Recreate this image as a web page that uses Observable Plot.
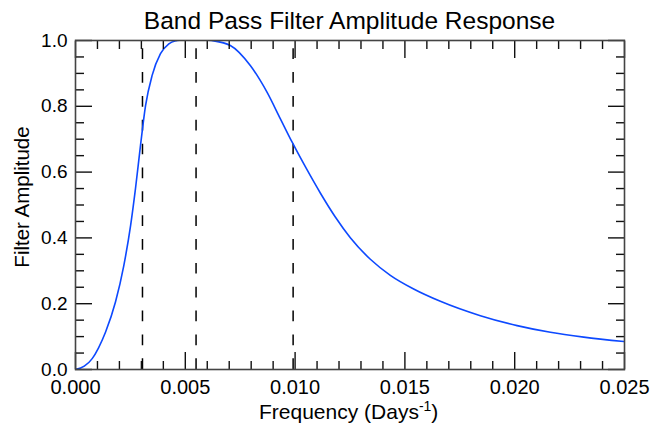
<!DOCTYPE html>
<html><head><meta charset="utf-8">
<script src="https://cdn.jsdelivr.net/npm/d3@7"></script>
<script src="https://cdn.jsdelivr.net/npm/@observablehq/plot@0.6"></script>
<style>body{margin:0;background:#fff;} svg{display:block;}</style>
</head><body><div id="chart"></div>
<script>
// Frequency (days^-1) and filter amplitude
const freq = [0, 0.0004, 0.00076, 0.00105, 0.00137, 0.00182, 0.0022, 0.00251, 0.00273, 0.00296, 0.00319, 0.00349, 0.00387, 0.00425, 0.00462, 0.0049, 0.0054, 0.0058, 0.0062, 0.00705, 0.00796, 0.00872, 0.00933, 0.009872, 0.01051, 0.011148, 0.011831, 0.012515, 0.013426, 0.014337, 0.015399, 0.016615, 0.018437, 0.020109, 0.021626, 0.023144, 0.025];
const amp  = [0, 0.010, 0.033, 0.066, 0.114, 0.205, 0.316, 0.438, 0.549, 0.681, 0.802, 0.894, 0.960, 0.990, 1.000, 1.003, 1.005, 1.003, 1.000, 0.985, 0.924, 0.843, 0.762, 0.690, 0.611, 0.5365, 0.4635, 0.4006, 0.335, 0.2863, 0.2447, 0.2073, 0.1635, 0.1334, 0.1131, 0.0985, 0.0848];
// Dashed cutoff markers
const cutoffs = [0.00305, 0.00549, 0.00991];
// Ticks
const xMajor = [0, 0.005, 0.010, 0.015, 0.020, 0.025];
const xMinor = [0.001, 0.002, 0.003, 0.004, 0.006, 0.007, 0.008, 0.009, 0.011, 0.012, 0.013, 0.014, 0.016, 0.017, 0.018, 0.019, 0.021, 0.022, 0.023, 0.024];
const xTickLabels = ["0.000", "0.005", "0.010", "0.015", "0.020", "0.025"];
const yMajor = [0, 0.2, 0.4, 0.6, 0.8, 1.0];
const yMinor = [0.05, 0.1, 0.15, 0.25, 0.3, 0.35, 0.45, 0.5, 0.55, 0.65, 0.7, 0.75, 0.85, 0.9, 0.95];
const yTickLabels = ["0.0", "0.2", "0.4", "0.6", "0.8", "1.0"];
// Texts
const titleText = "Band Pass Filter Amplitude Response";
const xLabelText = "Frequency (Days";
const xLabelSup = "-1";
const xLabelEnd = ")";
const yLabelText = "Filter Amplitude";

const data = freq.map((f, i) => ({f, a: amp[i]}));
const font = "'Liberation Sans', Arial, Helvetica, sans-serif";
const tickColor = "#111";

const svg = Plot.plot({
  width: 652,
  height: 425,
  marginLeft: 75,
  marginRight: 28,
  marginTop: 40,
  marginBottom: 56,
  style: {fontFamily: font, background: "white", color: "black"},
  x: {domain: [0, 0.025], axis: null},
  y: {domain: [0, 1], axis: null},
  marks: [
    Plot.ruleX(cutoffs, {x: d => d, y1: 0, y2: 1, stroke: "black", strokeWidth: 1.5, strokeDasharray: "10.7,13.15"}),
    Plot.line(data, {x: "f", y: "a", stroke: "#0d49ff", strokeWidth: 1.6, curve: "monotone-x", clip: true}),
    // inward ticks, all four sides
    Plot.axisX(xMajor, {anchor: "bottom", tickSize: -17, fill: "none", stroke: tickColor, strokeWidth: 1.4, label: null}),
    Plot.axisX(xMinor, {anchor: "bottom", tickSize: -8, fill: "none", stroke: tickColor, strokeWidth: 1.4, label: null}),
    Plot.axisX(xMajor, {anchor: "top", tickSize: -17, fill: "none", stroke: tickColor, strokeWidth: 1.4, label: null}),
    Plot.axisX(xMinor, {anchor: "top", tickSize: -8, fill: "none", stroke: tickColor, strokeWidth: 1.4, label: null}),
    Plot.axisY(yMajor, {anchor: "left", tickSize: -17, fill: "none", stroke: tickColor, strokeWidth: 1.4, label: null}),
    Plot.axisY(yMinor, {anchor: "left", tickSize: -9, fill: "none", stroke: tickColor, strokeWidth: 1.4, label: null}),
    Plot.axisY(yMajor, {anchor: "right", tickSize: -17, fill: "none", stroke: tickColor, strokeWidth: 1.4, label: null}),
    Plot.axisY(yMinor, {anchor: "right", tickSize: -9, fill: "none", stroke: tickColor, strokeWidth: 1.4, label: null}),
    // tick labels
    Plot.axisX(xMajor, {anchor: "bottom", tickSize: 0, tickPadding: 10, fontSize: 20, fill: "black", tickFormat: (d, i) => xTickLabels[i], label: null}),
    Plot.axisY(yMajor, {anchor: "left", tickSize: 0, tickPadding: 8, fontSize: 19, fill: "black", tickFormat: (d, i) => yTickLabels[i], label: null}),
    Plot.frame({stroke: "#444", strokeWidth: 1.6})
  ]
});

const s = d3.select(svg);
s.append("text")
  .attr("x", 349.5).attr("y", 29)
  .attr("text-anchor", "middle")
  .attr("font-size", 24.5).attr("font-family", font).attr("fill", "black")
  .text(titleText);

const xl = s.append("text")
  .attr("x", 348.7).attr("y", 419)
  .attr("text-anchor", "middle")
  .attr("font-size", 21).attr("font-family", font).attr("fill", "black");
xl.append("tspan").text(xLabelText);
xl.append("tspan").attr("dy", -8).attr("font-size", 14).text(xLabelSup);
xl.append("tspan").attr("dy", 8).text(xLabelEnd);

s.append("text")
  .attr("transform", "translate(29,197) rotate(-90)")
  .attr("text-anchor", "middle")
  .attr("font-size", 20.5).attr("font-family", font).attr("fill", "black")
  .text(yLabelText);

document.getElementById("chart").appendChild(svg);
</script>
</body></html>
